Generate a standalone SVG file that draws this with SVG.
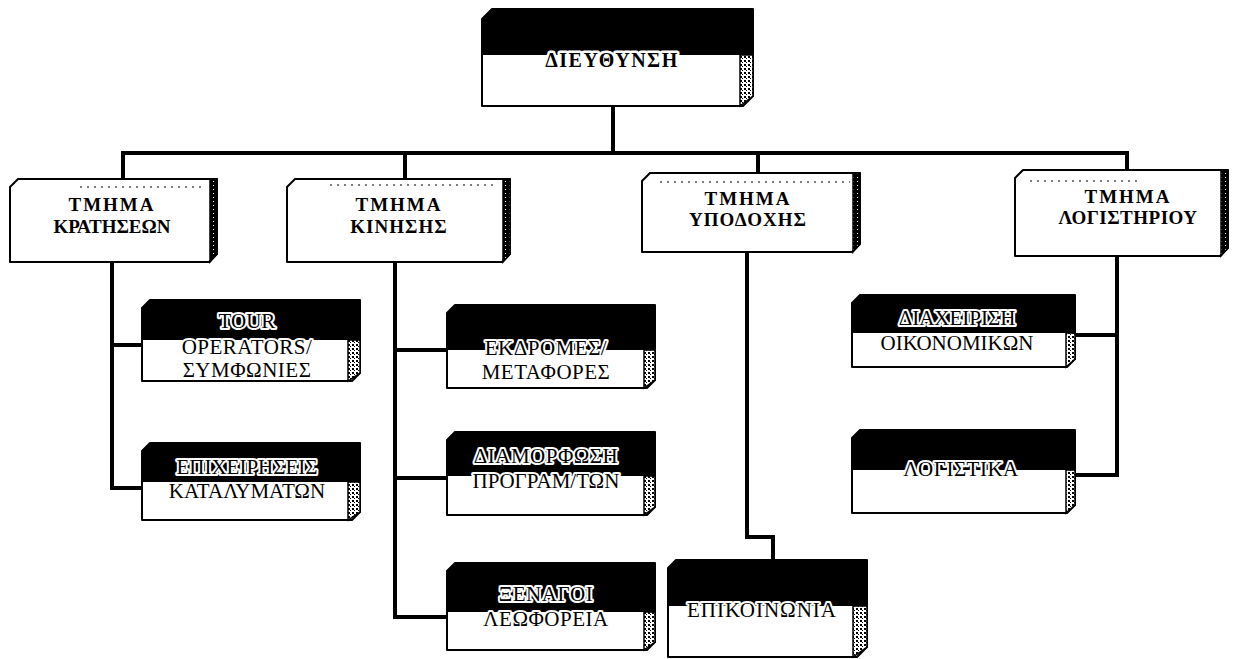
<svg xmlns="http://www.w3.org/2000/svg" width="1235" height="659" viewBox="0 0 1235 659">
<defs>
<pattern id="dots" width="4" height="4" patternUnits="userSpaceOnUse">
<rect width="4" height="4" fill="#fff"/>
<rect x="0" y="0" width="2" height="2" fill="#000"/>
<rect x="2" y="2" width="1" height="1" fill="#000"/>
</pattern>
<pattern id="dark" width="4" height="4" patternUnits="userSpaceOnUse">
<rect width="4" height="4" fill="#000"/>
<rect x="1" y="1" width="1" height="1" fill="#fff"/>
</pattern>
</defs>
<style>
.face{fill:#fff;stroke:#000;stroke-width:2;stroke-linejoin:round}
.cap{fill:#000}
.side{fill:url(#dots);stroke:#000;stroke-width:1.5}
.sided{fill:url(#dark);stroke:#000;stroke-width:1.5}
.topdots{stroke:#000;stroke-width:1.2;stroke-dasharray:2 5}
.conn{fill:none;stroke:#000;stroke-width:4;stroke-linejoin:miter}
.dt{font-family:"Liberation Serif","DejaVu Serif",serif;font-weight:bold;font-size:19px;fill:#000;text-anchor:middle}
.lt{font-family:"Liberation Serif","DejaVu Serif",serif;font-size:21px;fill:#000;text-anchor:middle;stroke:#fff;stroke-width:4;stroke-linejoin:round;paint-order:stroke}
.tt{font-family:"Liberation Serif","DejaVu Serif",serif;font-weight:bold;font-size:20px;fill:#000;text-anchor:middle;stroke:#fff;stroke-width:5;stroke-linejoin:round;paint-order:stroke}
</style>
<rect width="1235" height="659" fill="#fff"/>

<g id="connectors">
<path class="conn" d="M613 106 V153"/>
<path class="conn" d="M123 179 V153 H1127 V170"/>
<path class="conn" d="M405 153 V179"/>
<path class="conn" d="M758 153 V173"/>
<path class="conn" d="M112 262 V488 H142 M112 345 H142"/>
<path class="conn" d="M395 262 V617 H447 M395 350 H447 M395 478 H447"/>
<path class="conn" d="M747 252 V537 H773 V560"/>
<path class="conn" d="M1117 256 V475 H1075 M1117 335 H1075"/>
</g>

<g id="n-dieythynsh">
<path class="face" d="M482 19 L492 9 H753 V96 L743 106 H482 Z"/>
<path class="cap" d="M482 19 L492 9 H753 V55 H482 Z"/>
<path class="side" d="M740 55 V106 L753 96 V55 Z"/>
<text class="tt" x="612" y="67" letter-spacing="1.5">ΔΙΕΥΘΥΝΣΗ</text>
</g>

<g id="n-kratiseon">
<path class="face" d="M10 187 L18 179 H217 V254 L209 262 H10 Z"/>
<path class="sided" d="M210 179 V262 L217 254 V179 Z"/>
<line class="topdots" x1="80" y1="187" x2="205" y2="187"/>
<text class="dt" x="112" y="211" letter-spacing="2">ΤΜΗΜΑ</text>
<text class="dt" x="112" y="233">ΚΡΑΤΗΣΕΩΝ</text>
</g>

<g id="n-kiniseis">
<path class="face" d="M287 187 L295 179 H510 V254 L502 262 H287 Z"/>
<path class="sided" d="M503 179 V262 L510 254 V179 Z"/>
<line class="topdots" x1="330" y1="185" x2="495" y2="185"/>
<text class="dt" x="399" y="211" letter-spacing="2">ΤΜΗΜΑ</text>
<text class="dt" x="399" y="233" letter-spacing="1">ΚΙΝΗΣΗΣ</text>
</g>

<g id="n-ypodochis">
<path class="face" d="M642 181 L650 173 H860 V244 L852 252 H642 Z"/>
<path class="sided" d="M853 173 V252 L860 244 V173 Z"/>
<line class="topdots" x1="660" y1="182" x2="850" y2="182"/>
<text class="dt" x="748" y="205" letter-spacing="2">ΤΜΗΜΑ</text>
<text class="dt" x="748" y="226" letter-spacing="1">ΥΠΟΔΟΧΗΣ</text>
</g>

<g id="n-logistiriou">
<path class="face" d="M1015 178 L1023 170 H1228 V248 L1220 256 H1015 Z"/>
<path class="sided" d="M1221 170 V256 L1228 248 V170 Z"/>
<line class="topdots" x1="1030" y1="181" x2="1140" y2="181"/>
<text class="dt" x="1128" y="203" letter-spacing="2">ΤΜΗΜΑ</text>
<text class="dt" x="1128" y="224" letter-spacing="0.5">ΛΟΓΙΣΤΗΡΙΟΥ</text>
</g>

<g id="n-tour">
<path class="face" d="M142 308 L150 300 H360 V373 L352 381 H142 Z"/>
<path class="cap" d="M142 308 L150 300 H360 V340 H142 Z"/>
<path class="side" d="M348 340 V381 L360 373 V340 Z"/>
<text class="lt" x="247" y="328">TOUR</text>
<text class="lt" x="247" y="354" letter-spacing="0.5">OPERATORS/</text>
<text class="lt" x="247" y="377" letter-spacing="0.5">ΣΥΜΦΩΝΙΕΣ</text>
</g>

<g id="n-epicheiriseis">
<path class="face" d="M142 451 L150 443 H360 V512 L352 520 H142 Z"/>
<path class="cap" d="M142 451 L150 443 H360 V482 H142 Z"/>
<path class="side" d="M348 482 V520 L360 512 V482 Z"/>
<text class="lt" x="247" y="474">ΕΠΙΧΕΙΡΗΣΕΙΣ</text>
<text class="lt" x="247" y="498">ΚΑΤΑΛΥΜΑΤΩΝ</text>
</g>

<g id="n-ekdromes">
<path class="face" d="M447 313 L455 305 H655 V380 L647 388 H447 Z"/>
<path class="cap" d="M447 313 L455 305 H655 V350 H447 Z"/>
<path class="side" d="M644 350 V388 L655 380 V350 Z"/>
<text class="lt" x="546" y="355" letter-spacing="0.5">ΕΚΔΡΟΜΕΣ/</text>
<text class="lt" x="546" y="379" letter-spacing="0.5">ΜΕΤΑΦΟΡΕΣ</text>
</g>

<g id="n-diamorfosi">
<path class="face" d="M447 440 L455 432 H655 V507 L647 515 H447 Z"/>
<path class="cap" d="M447 440 L455 432 H655 V476 H447 Z"/>
<path class="side" d="M644 476 V515 L655 507 V476 Z"/>
<text class="lt" x="546" y="463" letter-spacing="0.5">ΔΙΑΜΟΡΦΩΣΗ</text>
<text class="lt" x="546" y="488">ΠΡΟΓΡΑΜ/ΤΩΝ</text>
</g>

<g id="n-xenagoi">
<path class="face" d="M447 571 L455 563 H655 V642 L647 650 H447 Z"/>
<path class="cap" d="M447 571 L455 563 H655 V612 H447 Z"/>
<path class="side" d="M644 612 V650 L655 642 V612 Z"/>
<text class="lt" x="546" y="601" letter-spacing="0.5">ΞΕΝΑΓΟΙ</text>
<text class="lt" x="546" y="626" letter-spacing="0.5">ΛΕΩΦΟΡΕΙΑ</text>
</g>

<g id="n-epikoinonia">
<path class="face" d="M668 568 L676 560 H867 V647 L857 657 H668 Z"/>
<path class="cap" d="M668 568 L676 560 H867 V606 H668 Z"/>
<path class="side" d="M853 606 V657 L867 647 V606 Z"/>
<text class="lt" x="762" y="617" letter-spacing="1">ΕΠΙΚΟΙΝΩΝΙΑ</text>
</g>

<g id="n-diacheirisi">
<path class="face" d="M852 303 L860 295 H1075 V359 L1067 367 H852 Z"/>
<path class="cap" d="M852 303 L860 295 H1075 V333 H852 Z"/>
<path class="side" d="M1066 333 V367 L1075 359 V333 Z"/>
<text class="lt" x="957" y="325">ΔΙΑΧΕΙΡΙΣΗ</text>
<text class="lt" x="957" y="350">ΟΙΚΟΝΟΜΙΚΩΝ</text>
</g>

<g id="n-logistika">
<path class="face" d="M852 438 L860 430 H1075 V505 L1067 513 H852 Z"/>
<path class="cap" d="M852 438 L860 430 H1075 V470 H852 Z"/>
<path class="side" d="M1066 470 V513 L1075 505 V470 Z"/>
<text class="lt" x="961" y="476" letter-spacing="0.5">ΛΟΓΙΣΤΙΚΑ</text>
</g>
</svg>
